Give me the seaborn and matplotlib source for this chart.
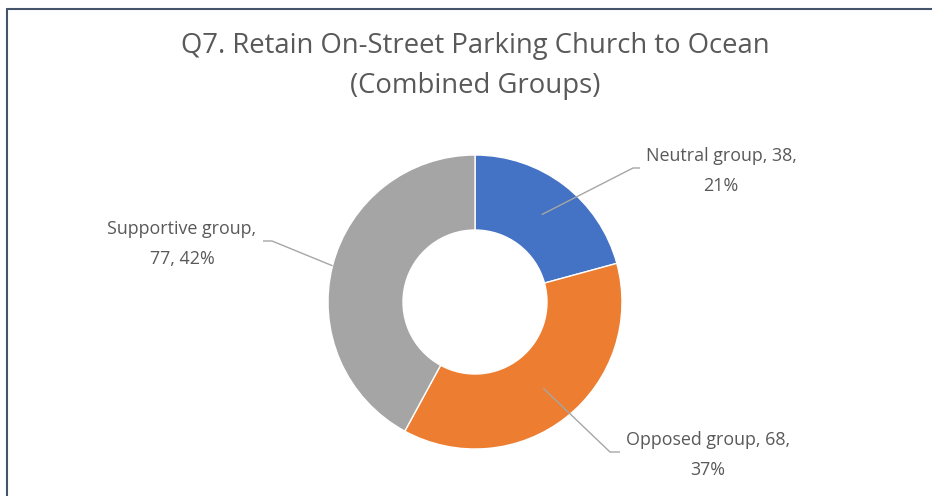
import numpy as np
import matplotlib
matplotlib.use('Agg')
import matplotlib.pyplot as plt
import seaborn as sns

groups = ['Neutral group', 'Opposed group', 'Supportive group']
counts = [38, 68, 77]
colors = ['#4472C4', '#ED7D31', '#A5A5A5']
title = 'Q7. Retain On-Street Parking Church to Ocean\n(Combined Groups)'

sns.set_theme(style='white')
plt.rcParams['font.family'] = ['Open Sans', 'DejaVu Sans']

W, H = 932, 496
fig = plt.figure(figsize=(W / 100, H / 100), dpi=100)
ax = fig.add_axes([0, 0, 1, 1])

# donut geometry in pixels (y measured from top in the picture)
cx, cy = 475, H - 302
r_out, r_in = 147, 72

wedges, _ = ax.pie(counts, colors=colors, startangle=90, counterclock=False,
                   center=(cx, cy), radius=r_out, frame=True,
                   wedgeprops=dict(width=r_out - r_in, edgecolor='white', linewidth=1))
ax.set_xlim(0, W)
ax.set_ylim(0, H)
ax.set_aspect('equal')
ax.axis('off')

total = sum(counts)
pcts = [round(c / total * 100) for c in counts]

# label layout: text centre, text-side end of leader, elbow, anchor radius
label_pos = [(721, 171), (708, 455), (182, 244)]
line_end = [(640, 168), (620, 452), (263, 241)]
elbow = [(633, 168), (610, 452), (272, 241)]
anchor_r = [110, 110, 147]
texts = ['{}, {},\n{}%'.format(groups[0], counts[0], pcts[0]),
         '{}, {},\n{}%'.format(groups[1], counts[1], pcts[1]),
         '{},\n{}, {}%'.format(groups[2], counts[2], pcts[2])]

for w, txt, tp, le, el, ar in zip(wedges, texts, label_pos, line_end, elbow, anchor_r):
    ang = np.deg2rad((w.theta1 + w.theta2) / 2)
    ax_x = cx + ar * np.cos(ang)
    ax_y = cy + ar * np.sin(ang)
    ax.plot([ax_x, el[0], le[0]], [ax_y, H - el[1], H - le[1]],
            color='#A6A6A6', lw=1, solid_capstyle='butt')
    ax.text(tp[0], H - tp[1], txt, ha='center', va='center', fontsize=12.9,
            color='#595959', linespacing=1.8)

fig.text(cx / W, 1 - 66 / H, title, ha='center', va='center', fontsize=19.8,
         color='#595959', linespacing=1.55)

# chart frame (top and left edges visible)
fig.add_artist(plt.Line2D([7 / W, 7 / W], [0, 1 - 9 / H], transform=fig.transFigure,
                          color='#44546A', lw=1.5))
fig.add_artist(plt.Line2D([7 / W, 1], [1 - 9 / H, 1 - 9 / H], transform=fig.transFigure,
                          color='#44546A', lw=1.5))

fig.savefig('out.png', dpi=100, facecolor='white')
